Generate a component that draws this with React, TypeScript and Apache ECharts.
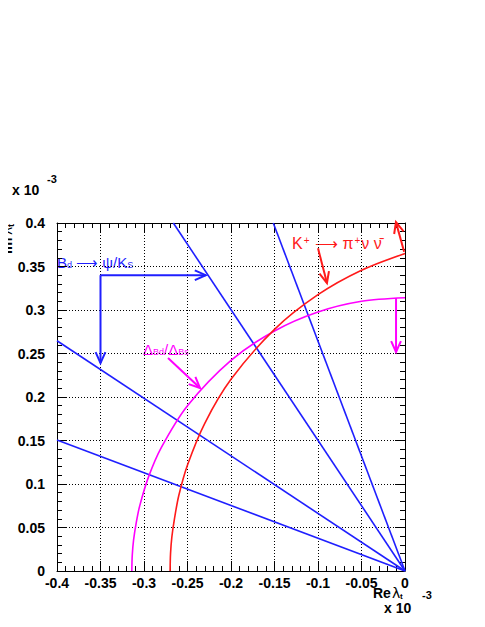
import React, { useEffect, useRef } from "react";
import * as echarts from "echarts";

// Axis ranges (units of 1e-3)
const xRange = [-0.4, 0];
const yRange = [0, 0.4];
const tickStep = 0.05;

// Straight B_d -> psi K_S lines (endpoints)
const blueLines: number[][][] = [
  [[-0.4, 0.1506], [0, 0]],
  [[-0.4, 0.2647], [0, 0]],
  [[-0.2663, 0.4], [0, 0]],
  [[-0.1514, 0.4], [0, 0]],
];

// K+ -> pi+ nu nubar curve
const redCurve: number[][] = [
  [-0.27, 0], [-0.2695, 0.02], [-0.268, 0.039], [-0.265, 0.06], [-0.26, 0.0868],
  [-0.25, 0.1219], [-0.23, 0.1701], [-0.2, 0.2203], [-0.15, 0.2778],
  [-0.1, 0.3176], [-0.05, 0.3457], [0, 0.365],
];

// Delta M_d / Delta M_s curve
const magentaCurve: number[][] = [
  [-0.314, 0], [-0.3135, 0.018], [-0.312, 0.0354], [-0.309, 0.055], [-0.305, 0.0746],
  [-0.295, 0.1076], [-0.28, 0.1421], [-0.25, 0.19], [-0.2, 0.2421],
  [-0.15, 0.2759], [-0.1, 0.2977], [-0.05, 0.31], [0, 0.314],
];

// Arrows [x1, y1, x2, y2]
const blueArrows: number[][] = [
  [-0.35, 0.340, -0.229, 0.340],
  [-0.35, 0.340, -0.35, 0.239],
];
const redArrows: number[][] = [
  [-0.1, 0.371, -0.0897, 0.331],
  [-0.001, 0.367, -0.0104, 0.401],
];
const magentaArrows: number[][] = [
  [-0.2724, 0.2448, -0.2356, 0.2103],
  [-0.0103, 0.3138, -0.0103, 0.2517],
];

const BLUE = "#1f1fff";
const RED = "#ff1a1a";
const MAGENTA = "#ff00ff";
const FONT = "Liberation Sans, Arial, sans-serif";

function arrowSeries(data: number[][], color: string) {
  return {
    type: "custom",
    xAxisIndex: 0,
    yAxisIndex: 0,
    clip: false,
    data,
    encode: { x: [0, 2], y: [1, 3] },
    renderItem: (_params: any, api: any) => {
      const p1 = api.coord([api.value(0), api.value(1)]);
      const p2 = api.coord([api.value(2), api.value(3)]);
      const ang = Math.atan2(p2[1] - p1[1], p2[0] - p1[0]);
      const L = 12;
      const w = 0.42;
      const h1 = [p2[0] - L * Math.cos(ang - w), p2[1] - L * Math.sin(ang - w)];
      const h2 = [p2[0] - L * Math.cos(ang + w), p2[1] - L * Math.sin(ang + w)];
      return {
        type: "group",
        children: [
          {
            type: "line",
            shape: { x1: p1[0], y1: p1[1], x2: p2[0], y2: p2[1] },
            style: { stroke: color, lineWidth: 2 },
          },
          {
            type: "polyline",
            shape: { points: [h1, p2, h2] },
            style: { stroke: color, fill: null, lineWidth: 2 },
          },
        ],
      };
    },
  };
}

function lineSeries(data: number[][], color: string, smooth: boolean | number) {
  return {
    type: "line",
    xAxisIndex: 0,
    yAxisIndex: 0,
    data,
    smooth,
    showSymbol: false,
    symbol: "none",
    lineStyle: { color, width: 1.6 },
    silent: true,
  };
}

export default function App() {
  const ref = useRef<HTMLDivElement>(null);
  useEffect(() => {
    if (!ref.current) return;
    const chart = echarts.init(ref.current, null, { renderer: "svg" });

    const axisCommon = {
      type: "value",
      interval: tickStep,
      axisLine: { show: true, onZero: false, lineStyle: { color: "#000", width: 1 } },
      axisTick: { show: true, inside: true, length: 10, lineStyle: { color: "#000" } },
      minorTick: { show: true, splitNumber: 5, length: 5, lineStyle: { color: "#000" } },
    };
    const labelStyle = {
      color: "#000",
      fontFamily: FONT,
      fontWeight: "bold",
      fontSize: 14,
    };

    const option: any = {
      animation: false,
      grid: { left: 57, right: 80, top: 223, bottom: 56, containLabel: false },
      xAxis: [
        {
          ...axisCommon,
          position: "bottom",
          min: xRange[0],
          max: xRange[1],
          axisLabel: { ...labelStyle, margin: 5 },
          splitLine: { show: true, lineStyle: { color: "#000", type: [1, 2], width: 1 } },
        },
        {
          ...axisCommon,
          position: "top",
          min: xRange[0],
          max: xRange[1],
          axisLabel: { show: false },
          splitLine: { show: false },
        },
      ],
      yAxis: [
        {
          ...axisCommon,
          position: "left",
          min: yRange[0],
          max: yRange[1],
          axisLabel: { ...labelStyle, margin: 12 },
          splitLine: { show: true, lineStyle: { color: "#000", type: [1, 2], width: 1 } },
        },
        {
          ...axisCommon,
          position: "right",
          min: yRange[0],
          max: yRange[1],
          axisLabel: { show: false },
          splitLine: { show: false },
        },
      ],
      series: [
        ...blueLines.map((d) => lineSeries(d, BLUE, false)),
        lineSeries(magentaCurve, MAGENTA, 0.3),
        lineSeries(redCurve, RED, 0.3),
        arrowSeries(blueArrows, BLUE),
        arrowSeries(redArrows, RED),
        arrowSeries(magentaArrows, MAGENTA),
      ],
      graphic: [
        // top-left exponent
        {
          type: "text",
          x: 12,
          y: 190,
          style: {
            text: "x 10",
            font: `bold 14px ${FONT}`,
            fill: "#000",
            verticalAlign: "middle",
          },
        },
        {
          type: "text",
          x: 47,
          y: 179,
          style: {
            text: "-3",
            font: `bold 11px ${FONT}`,
            fill: "#000",
            verticalAlign: "middle",
          },
        },
        // y-axis title (rotated)
        {
          type: "group",
          x: 7,
          y: 254,
          rotation: Math.PI / 2,
          children: [
            {
              type: "text",
              x: 0,
              y: 0,
              style: {
                text: "Im",
                font: `bold 14px ${FONT}`,
                fill: "#000",
                align: "left",
                verticalAlign: "middle",
              },
            },
            {
              type: "text",
              x: 19,
              y: 0,
              style: {
                text: "λ",
                font: `14px DejaVu Sans`,
                fill: "#000",
                align: "left",
                verticalAlign: "middle",
              },
            },
            {
              type: "text",
              x: 27,
              y: 4,
              style: {
                text: "t",
                font: `bold 9px ${FONT}`,
                fill: "#000",
                align: "left",
                verticalAlign: "middle",
              },
            },
          ],
        },
        // x-axis title
        {
          type: "text",
          x: 373,
          y: 593,
          style: {
            text: "Re",
            font: `bold 14px ${FONT}`,
            fill: "#000",
            verticalAlign: "middle",
          },
        },
        {
          type: "text",
          x: 392,
          y: 593,
          style: {
            text: "λ",
            font: `14px DejaVu Sans`,
            fill: "#000",
            verticalAlign: "middle",
          },
        },
        {
          type: "text",
          x: 400,
          y: 596,
          style: {
            text: "t",
            font: `bold 8px ${FONT}`,
            fill: "#000",
            verticalAlign: "middle",
          },
        },
        {
          type: "text",
          x: 384,
          y: 608,
          style: {
            text: "x 10",
            font: `bold 14px ${FONT}`,
            fill: "#000",
            verticalAlign: "middle",
          },
        },
        {
          type: "text",
          x: 422,
          y: 595,
          style: {
            text: "-3",
            font: `bold 11px ${FONT}`,
            fill: "#000",
            verticalAlign: "middle",
          },
        },
        // B_d -> psi K_S label
        {
          type: "text",
          x: 57,
          y: 262,
          style: {
            text: "{a|B}{s|d}{a| ⟶ ψ/K}{s|S}",
            verticalAlign: "middle",
            rich: {
              a: { font: `15px ${FONT}`, fill: BLUE },
              s: { font: `9px ${FONT}`, fill: BLUE, verticalAlign: "bottom", padding: [5, 0, 0, 0] },
            },
          },
        },
        // K+ -> pi+ nu nubar label
        {
          type: "text",
          x: 292,
          y: 243,
          style: {
            text: "{a|K}{p|+}{a| ⟶ π}{p|+}{a|ν ν̄}",
            verticalAlign: "middle",
            rich: {
              a: { font: `16px ${FONT}`, fill: RED },
              p: { font: `10px ${FONT}`, fill: RED, verticalAlign: "top", padding: [0, 1, 6, 1] },
            },
          },
        },
        // Delta_Bd / Delta_Bs label
        {
          type: "text",
          x: 143,
          y: 349,
          style: {
            text: "{a|Δ}{s|Bd}{a|/Δ}{s|Bs}",
            verticalAlign: "middle",
            rich: {
              a: { font: `15px ${FONT}`, fill: MAGENTA },
              s: { font: `9px ${FONT}`, fill: MAGENTA, verticalAlign: "bottom", padding: [6, 0, 0, 0] },
            },
          },
        },
      ],
    };
    chart.setOption(option);
    return () => chart.dispose();
  }, []);
  return <div ref={ref} style={{ width: 485, height: 627, margin: -8 }} />;
}
